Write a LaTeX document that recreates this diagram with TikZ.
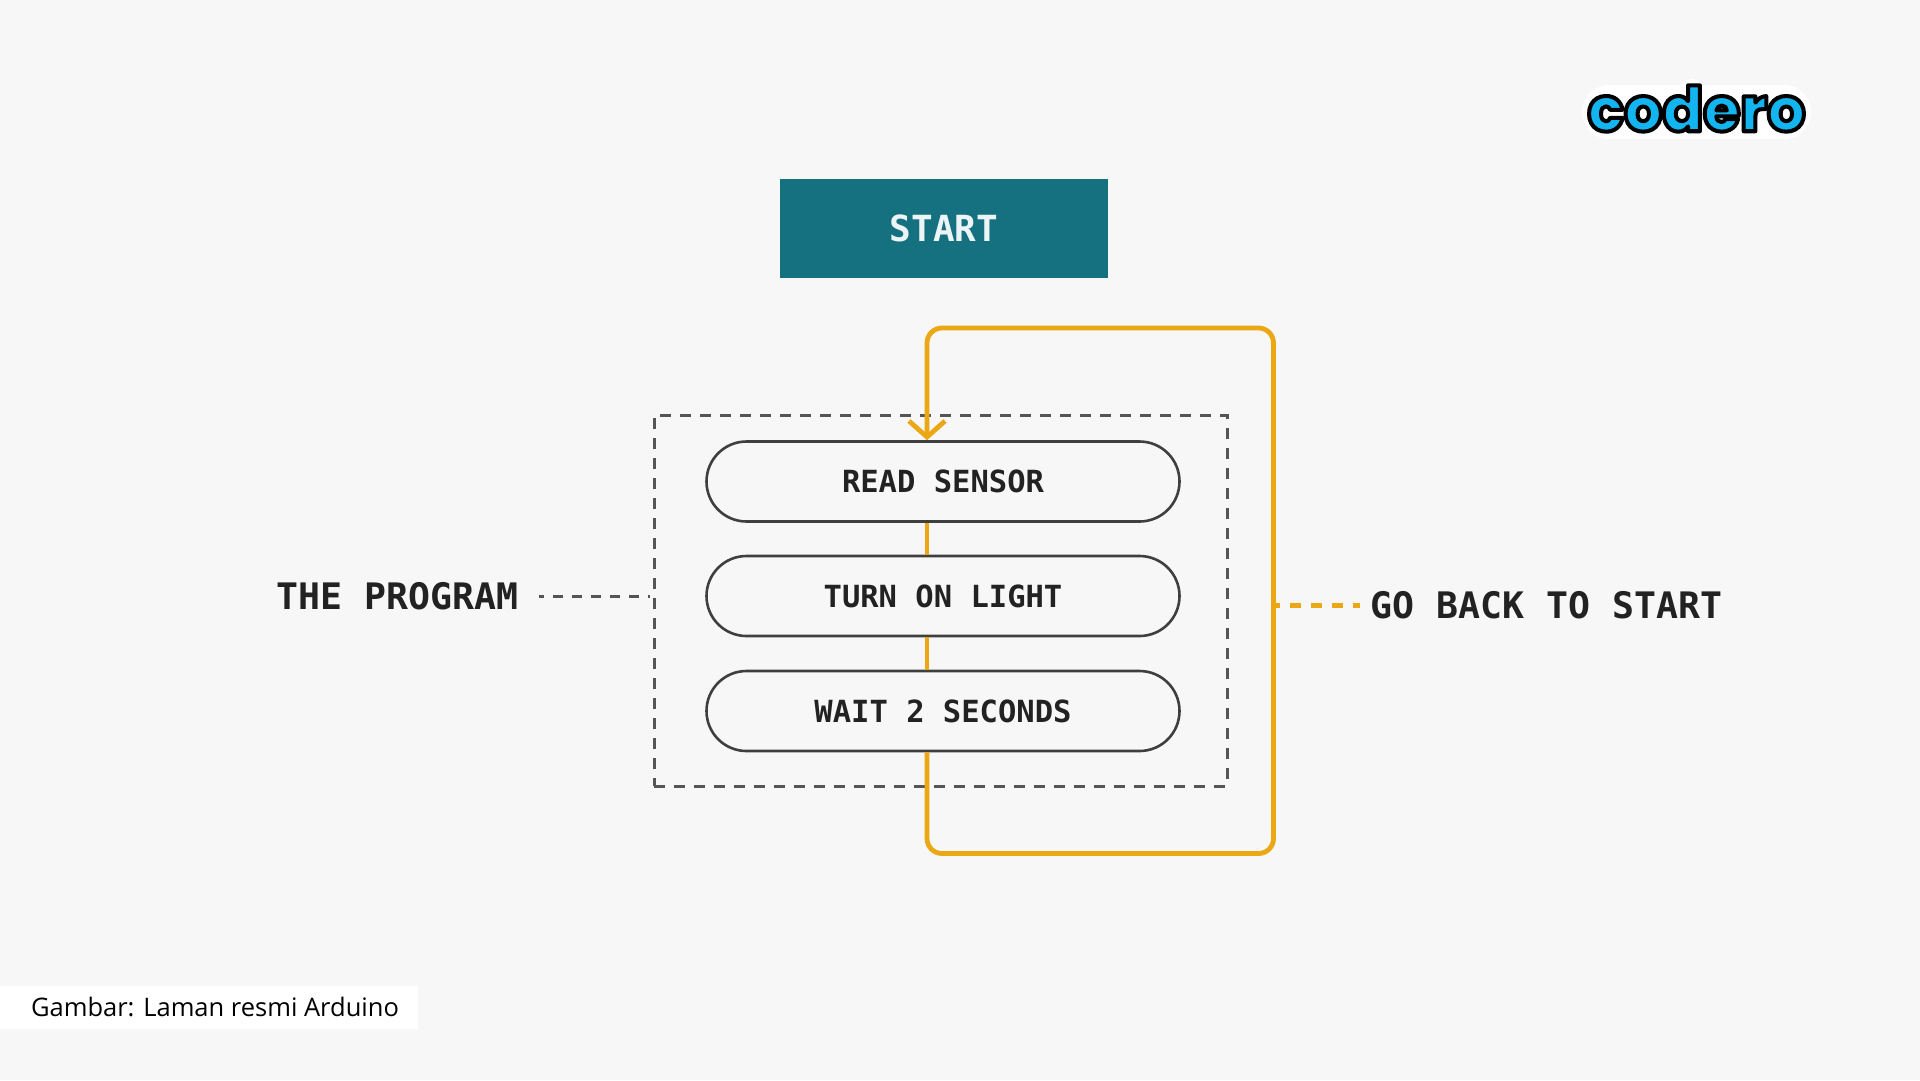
\documentclass[tikz,border=0pt]{standalone}
\usepackage{fontspec}
\usetikzlibrary{arrows.meta}
\setmainfont{DejaVu Sans Mono}
\newfontfamily\capfont{Open Sans}
\newfontfamily\monobold{DejaVu Sans Mono Bold}
\newfontfamily\logofont[FakeBold=6.5,FakeStretch=0.97]{Poppins ExtraBold}
\definecolor{pagebg}{HTML}{F7F7F7}
\definecolor{teal}{HTML}{15707F}
\definecolor{loopc}{HTML}{EBA714}
\definecolor{inkc}{HTML}{222222}
\definecolor{linec}{HTML}{3F3F3F}
\definecolor{dashc}{HTML}{555555}
\definecolor{logoc}{HTML}{12B5F0}
\tikzset{
  pill/.style={draw=linec,line width=2.6pt,minimum width=473pt,minimum height=80pt,rounded corners=40pt,inner sep=0pt,text=inkc,font=\monobold\fontsize{30.5}{30.5}\selectfont},
  flow/.style={draw=loopc,line width=4.8pt},
  biglabel/.style={inner sep=0pt,text=inkc,font=\monobold\fontsize{36.5}{36.5}\selectfont},
  boxdash/.style={draw=dashc,line width=3pt,dash pattern=on 11pt off 9pt},
}
\begin{document}
\begin{tikzpicture}[x=1pt,y=-1pt]
\useasboundingbox (0,0) rectangle (1920,1080);
\fill[pagebg] (0,0) rectangle (1920,1080);
% caption
\node[fill=white,minimum width=417.5pt,minimum height=43pt,inner sep=0pt] (capbox) at (208.75,1007.5) {};
\node[inner sep=0pt,text=black,font=\capfont\fontsize{25.5}{25.5}\selectfont] (cap) at (215,1007) {Gambar: Laman resmi Arduino};
% logo
\draw[white,line width=54pt,line cap=round] (1609,112) -- (1784,112);
\draw[white,line width=26pt,line cap=round] (1692,92) -- (1692,112);
\node[inner sep=0pt] (logo) at (1696.5,108.5) {\logofont\fontsize{62}{62}\selectfont\color{logoc}\special{pdf:code 0 0 0 RG 1 j 1 J}codero};
% start
\node[fill=teal,minimum width=328pt,minimum height=99pt,inner sep=0pt,text=white!92!teal,font=\monobold\fontsize{36}{36}\selectfont] (start) at (944,228.5) {START};
% program box
\node[boxdash,minimum width=573pt,minimum height=371pt] (program) at (940.5,600.5) {};
\node[pill] (read) at (943,481.5) {READ SENSOR};
\node[pill] (turn) at (943,596) {TURN ON LIGHT};
\node[pill] (wait) at (943,711) {WAIT 2 SECONDS};
% flow
\coordinate (loopx) at (927,0);
\coordinate (loopr) at (1273.5,0);
\coordinate (looptop) at (0,328);
\coordinate (loopbot) at (0,853.5);
\draw[flow] (loopx |- read.south) -- (loopx |- turn.north);
\draw[flow] (loopx |- turn.south) -- (loopx |- wait.north);
\draw[flow,rounded corners=15pt,-{Straight Barb[length=16pt,width=36pt,line width=4.8pt]}]
  (loopx |- wait.south) -- (loopx |- loopbot) -- (loopr |- loopbot) -- (loopr |- looptop) -- (loopx |- looptop) -- (loopx |- read.north);
% labels
\node[biglabel] (prog) at (397.5,596) {THE PROGRAM};
\node[biglabel] (goback) at (1546.5,605) {GO BACK TO START};
\draw[draw=dashc,line width=3pt,dash pattern=on 10pt off 9pt,dash phase=5pt,shorten <=20pt,shorten >=3pt] (prog.east) -- (program.west |- prog.east);
\draw[draw=loopc,line width=5pt,dash pattern=on 11pt off 10pt,dash phase=5pt,shorten >=11pt] (loopr |- goback.west) -- (goback.west);
\end{tikzpicture}
\end{document}
